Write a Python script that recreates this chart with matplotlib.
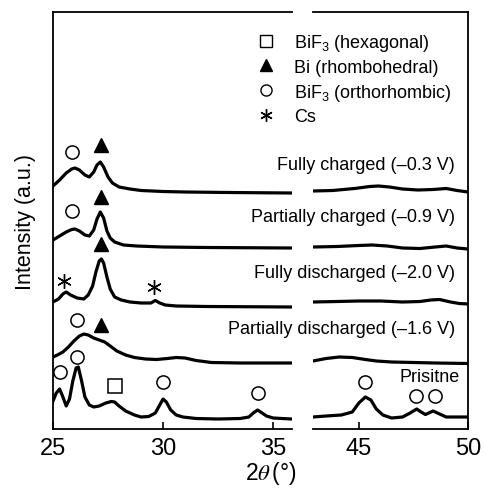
import numpy as np
import matplotlib.pyplot as plt
from matplotlib.lines import Line2D

plt.rcParams['font.family'] = ['Liberation Sans', 'DejaVu Sans']
plt.rcParams['mathtext.fontset'] = 'custom'
plt.rcParams['mathtext.rm'] = 'Liberation Sans'
plt.rcParams['mathtext.it'] = 'Liberation Sans:italic'

# ---- XRD traces (2theta, intensity in a.u.) ----
# fully charged (-0.3 V)
fc_x = [25.0, 25.3, 25.6, 25.85, 26.0, 26.2, 26.45, 26.65, 26.85, 27.0, 27.15, 27.3, 27.5, 27.7,
        28.0, 28.5, 29.0, 30.0, 31.0, 33.0, 35.85]
fc_y = [243, 249, 256, 260, 261, 259, 254, 252, 257, 264, 267, 262, 252, 246,
        242, 240, 238.5, 237.5, 237, 236.5, 236]
fc_x2 = [42.9, 43.8, 44.8, 45.5, 45.9, 46.4, 47.0, 47.7, 48.4, 49.0, 49.5, 50.0]
fc_y2 = [238, 238.5, 240.5, 242.5, 243, 242, 240, 239, 239.5, 240.5, 238.5, 237]

# partially charged (-0.9 V)
pc_x = [25.0, 25.3, 25.6, 25.85, 26.0, 26.2, 26.45, 26.65, 26.85, 27.0, 27.15, 27.3, 27.45, 27.6,
        27.8, 28.2, 28.8, 30.0, 32.0, 35.85]
pc_y = [189, 193, 197, 199.5, 200, 198, 194, 193, 199, 210, 217, 211, 198, 191,
        187, 184, 183, 182, 181.5, 181]
pc_x2 = [42.9, 44.0, 45.0, 45.6, 46.3, 47.0, 47.8, 48.5, 49.0, 49.5, 50.0]
pc_y2 = [182, 182.5, 183.5, 184, 183, 181, 180.5, 182, 183, 181, 180]

# fully discharged (-2.0 V)
fd_x = [25.0, 25.25, 25.45, 25.6, 25.8, 26.1, 26.4, 26.6, 26.8, 26.95, 27.1, 27.2, 27.3, 27.45,
        27.6, 27.8, 28.1, 28.5, 29.0, 29.45, 29.65, 29.85, 30.1, 30.6, 32.0, 35.85]
fd_y = [127, 130, 135, 137, 134, 131, 130, 134, 143, 157, 168, 170, 166, 152,
        140, 132, 129, 127, 126, 126, 128.5, 126, 124, 123, 122.5, 122]
fd_x2 = [42.9, 44.0, 45.0, 46.0, 47.0, 47.8, 48.3, 48.7, 49.2, 49.6, 50.0]
fd_y2 = [127, 127.5, 128, 128, 127, 127.5, 129, 129.5, 127, 125.5, 125]

# partially discharged (-1.6 V)
pd_x = [25.0, 25.2, 25.45, 25.7, 25.95, 26.2, 26.4, 26.6, 26.85, 27.1, 27.35, 27.6, 27.9, 28.3,
        28.7, 29.2, 29.7, 30.2, 30.6, 31.0, 31.5, 32.2, 33.5, 35.85]
pd_y = [72, 74, 77, 82, 88, 93, 95, 94, 91, 89, 87, 83, 78, 74,
        71.5, 70, 69.5, 70.5, 71.5, 71, 68.5, 66.5, 66, 66]
pd_x2 = [42.9, 43.5, 44.1, 44.7, 45.3, 45.8, 46.5, 47.5, 48.5, 50.0]
pd_y2 = [68, 70.5, 72, 71.5, 69.5, 68, 67, 66.5, 66, 65.5]

# pristine
pr_x = [25.0, 25.15, 25.3, 25.45, 25.6, 25.75, 25.9, 26.05, 26.15, 26.3, 26.45, 26.65, 26.85, 27.1,
        27.4, 27.65, 27.8, 28.0, 28.3, 28.7, 29.0, 29.35, 29.65, 29.85, 30.0, 30.15, 30.35, 30.6,
        30.9, 31.5, 32.5, 33.5, 33.9, 34.1, 34.3, 34.5, 34.7, 35.0, 35.4, 35.85]
pr_y = [28, 36, 40, 32, 23, 30, 48, 61, 62, 48, 32, 24, 22, 23,
        26, 27.5, 27, 23, 18, 14, 12, 12.5, 16, 24, 30, 27, 19, 14,
        12, 10.5, 10, 10.5, 12, 16, 19, 16, 13, 11, 10.5, 10]
pr_x2 = [42.9, 43.5, 44.2, 44.7, 45.0, 45.3, 45.55, 45.8, 46.1, 46.5, 47.0, 47.35, 47.65, 47.85,
         48.05, 48.4, 48.7, 49.0, 49.5, 50.0]
pr_y2 = [12, 13, 14, 17, 26, 32, 29, 20, 14, 11, 12, 16, 20, 17,
         14.5, 18, 15, 12, 12, 12]

sample_labels = ['Fully charged (–0.3 V)', 'Partially charged (–0.9 V)',
                 'Fully discharged (–2.0 V)', 'Partially discharged (–1.6 V)', 'Prisitne']
label_y = [265, 212, 157, 101, 52]

# phase markers: (2theta, height)
hex_pos = [(27.8, 43)]
bi_pos = [(27.18, 284), (27.18, 232), (27.18, 185), (27.18, 104)]
ortho_pos = [(25.85, 277), (25.85, 218), (26.1, 109), (25.3, 57), (26.1, 72),
             (30.0, 47), (34.3, 36), (45.3, 47), (47.6, 33), (48.5, 33)]
cs_pos = [(25.5, 148), (29.6, 142)]

W, H = 485, 489
fig = plt.figure(figsize=(W / 100, H / 100), dpi=100)
axL = fig.add_axes([53 / W, 59 / H, 239 / W, 417 / H])
axR = fig.add_axes([313 / W, 59 / H, 155 / W, 417 / H], sharey=axL)

traces = [(fc_x, fc_y, fc_x2, fc_y2), (pc_x, pc_y, pc_x2, pc_y2), (fd_x, fd_y, fd_x2, fd_y2),
          (pd_x, pd_y, pd_x2, pd_y2), (pr_x, pr_y, pr_x2, pr_y2)]
for x1, y1, x2, y2 in traces:
    axL.plot(x1, y1, color='black', lw=2.3, solid_joinstyle='round')
    axR.plot(x2, y2, color='black', lw=2.3, solid_joinstyle='round')

mk = dict(color='black', ls='none', clip_on=False)
for ax, lo, hi in [(axL, 25, 36), (axR, 42, 50.1)]:
    for pts, m, kw in [(hex_pos, 's', dict(mfc='white', ms=9.5, mew=1.1)),
                       (bi_pos, '^', dict(mfc='black', ms=9.5)),
                       (ortho_pos, 'o', dict(mfc='white', ms=9.5, mew=1.1)),
                       (cs_pos, (6, 2, 0), dict(ms=10.5, mew=1.0))]:
        sel = [p for p in pts if lo <= p[0] <= hi]
        if sel:
            ax.plot([p[0] for p in sel], [p[1] for p in sel], marker=m, **mk, **kw)

axL.set_xlim(25, 35.86)
axR.set_xlim(42.9, 50)
axL.set_ylim(0, 417)
axL.set_xticks([25, 30, 35])
axR.set_xticks([45, 50])
for ax in (axL, axR):
    ax.tick_params(axis='x', direction='in', length=5, width=1.2, labelsize=17, pad=6)
    ax.tick_params(axis='y', left=False, right=False, labelleft=False, labelright=False)
    for s in ax.spines.values():
        s.set_linewidth(1.3)
axL.spines['right'].set_visible(False)
axR.spines['left'].set_visible(False)

axL.set_ylabel('Intensity (a.u.)', fontsize=15.5, labelpad=12)
fig.text(271 / W, 1 - 474 / H, '2$\\theta\\,$(°)', fontsize=16.5, ha='center', va='center',
         math_fontfamily='stix')

for lab, yy in zip(sample_labels, label_y):
    xx = 49.63 if lab == 'Prisitne' else 49.4
    axR.text(xx, yy, lab, fontsize=13, ha='right', va='center', clip_on=False)

handles = [Line2D([], [], marker='s', mfc='white', mec='black', ls='none', ms=8, mew=1.0),
           Line2D([], [], marker='^', color='black', ls='none', ms=8),
           Line2D([], [], marker='o', mfc='white', mec='black', ls='none', ms=8, mew=1.0),
           Line2D([], [], marker=(6, 2, 0), color='black', ls='none', ms=9, mew=1.0)]
leg_labels = ['BiF$_3$ (hexagonal)', 'Bi (rhombohedral)', 'BiF$_3$ (orthorhombic)', 'Cs']
fig.legend(handles, leg_labels, loc='upper left', bbox_to_anchor=(257 / W, 1 - 33 / H),
           frameon=False, fontsize=13, handlelength=1.0, handletextpad=1.05,
           labelspacing=0.32, borderpad=0, borderaxespad=0)

fig.savefig('out.png', dpi=100)
